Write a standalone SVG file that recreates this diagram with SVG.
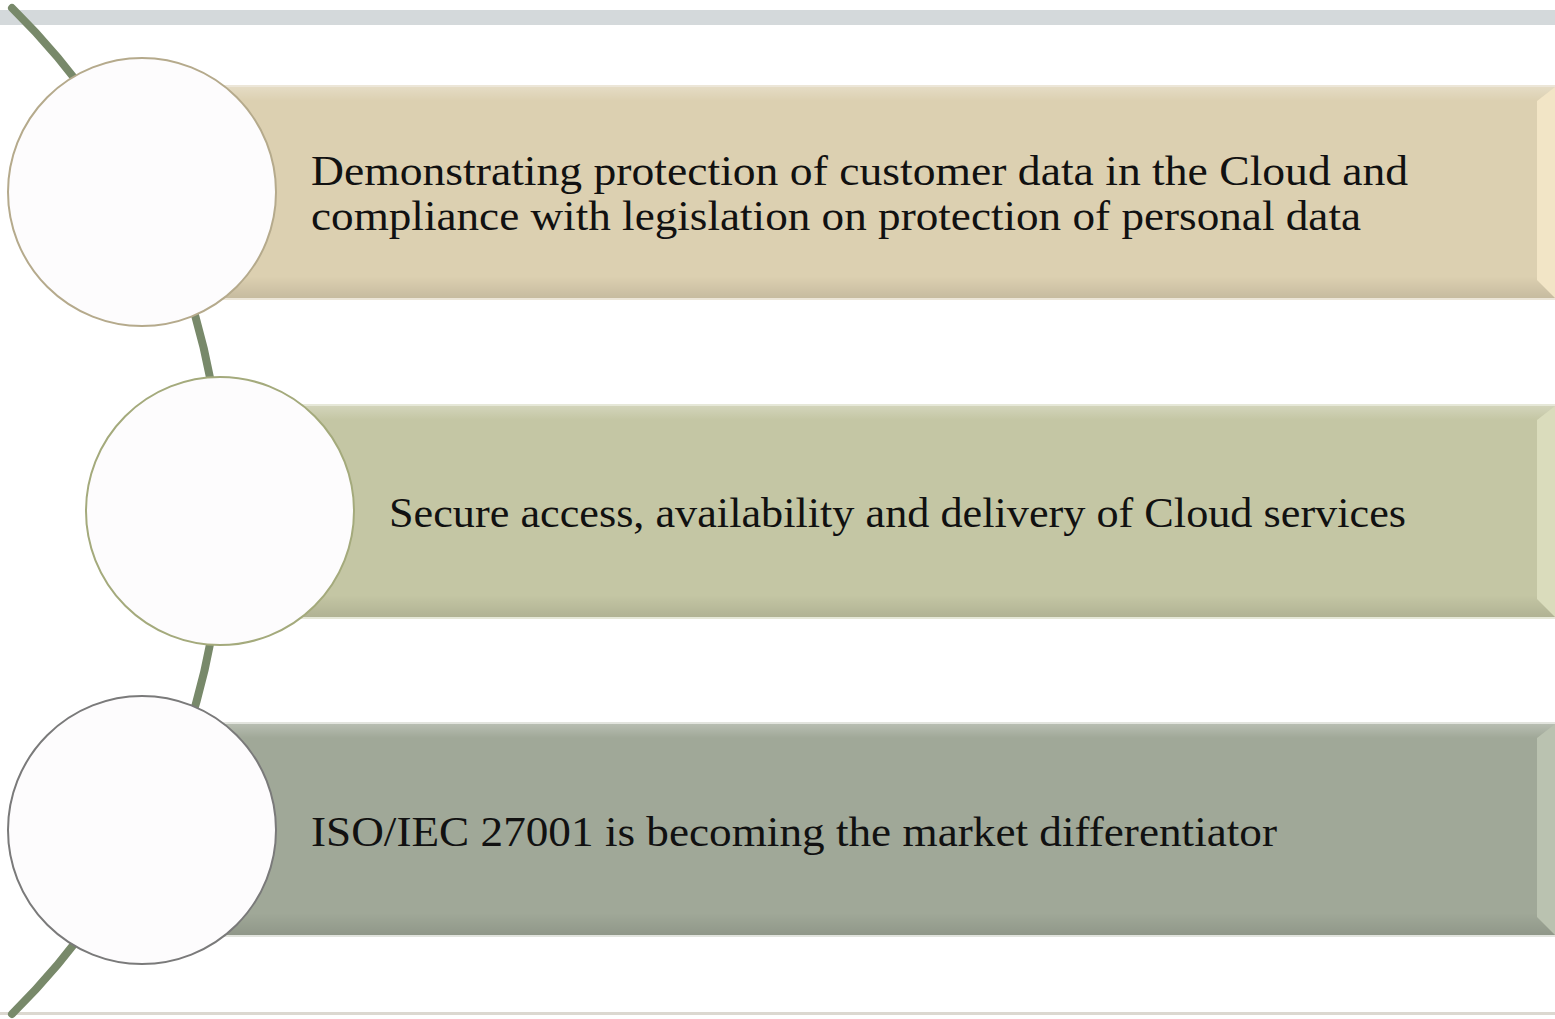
<svg xmlns="http://www.w3.org/2000/svg" width="1555" height="1019" viewBox="0 0 1555 1019">
<defs>
<style>
.txt{font-family:"Liberation Serif","Times New Roman",serif;font-size:42px;fill:#111;}
.circ{fill:#fdfcfd;stroke-width:2;}
</style>
<linearGradient id="sh" x1="0" y1="0" x2="0" y2="1">
<stop offset="0" stop-color="#000" stop-opacity="0"/>
<stop offset="1" stop-color="#000" stop-opacity="0.10"/>
</linearGradient>
<linearGradient id="hl" x1="0" y1="0" x2="0" y2="1">
<stop offset="0" stop-color="#fff" stop-opacity="0.25"/>
<stop offset="1" stop-color="#fff" stop-opacity="0"/>
</linearGradient>
</defs>
<rect width="1555" height="1019" fill="#ffffff"/>
<rect x="0" y="10" width="1555" height="15" fill="#d4d9db"/>
<rect x="0" y="1012" width="1555" height="3" fill="#dcd8d0"/>
<g id="connectors">
<path d="M 12 8 A 706 706 0 0 1 12 1014" fill="none" stroke="#78896a" stroke-width="8" stroke-linecap="round"/>
</g>
<g id="bar1">
<rect x="142" y="86" width="1413" height="213" fill="none" stroke="#ece6d8" stroke-width="2"/>
<rect x="142" y="87" width="1413" height="211" fill="#dcd0b1"/>
<rect x="142" y="87" width="1413" height="14" fill="url(#hl)"/>
<rect x="142" y="276" width="1413" height="22" fill="url(#sh)"/>
<polygon points="1537,101 1555,87 1555,298 1537,280" fill="#f2e5c6"/>
</g>
<g id="bar2">
<rect x="220" y="405" width="1335" height="213" fill="none" stroke="#e6e8d8" stroke-width="2"/>
<rect x="220" y="406" width="1335" height="211" fill="#c4c6a4"/>
<rect x="220" y="406" width="1335" height="14" fill="url(#hl)"/>
<rect x="220" y="595" width="1335" height="22" fill="url(#sh)"/>
<polygon points="1537,420 1555,406 1555,617 1537,599" fill="#dadcbc"/>
</g>
<g id="bar3">
<rect x="142" y="723" width="1413" height="213" fill="none" stroke="#e2e4de" stroke-width="2"/>
<rect x="142" y="724" width="1413" height="211" fill="#a0a898"/>
<rect x="142" y="724" width="1413" height="14" fill="url(#hl)"/>
<rect x="142" y="913" width="1413" height="22" fill="url(#sh)"/>
<polygon points="1537,738 1555,724 1555,935 1537,917" fill="#bac2b0"/>
</g>
<g id="circle1"><circle class="circ" cx="142" cy="192" r="134" stroke="#b5aa8c"/></g>
<g id="circle2"><circle class="circ" cx="220" cy="511" r="134" stroke="#a4aa7c"/></g>
<g id="circle3"><circle class="circ" cx="142" cy="830" r="134" stroke="#7a7a7a"/></g>
<g id="text1">
<text class="txt" x="311" y="185" textLength="1097" lengthAdjust="spacingAndGlyphs">Demonstrating protection of customer data in the Cloud and</text>
<text class="txt" x="311" y="230" textLength="1050" lengthAdjust="spacingAndGlyphs">compliance with legislation on protection of personal data</text>
</g>
<g id="text2">
<text class="txt" x="389" y="527" textLength="1017" lengthAdjust="spacingAndGlyphs">Secure access, availability and delivery of Cloud services</text>
</g>
<g id="text3">
<text class="txt" x="311" y="846" textLength="966" lengthAdjust="spacingAndGlyphs">ISO/IEC 27001 is becoming the market differentiator</text>
</g>
</svg>
